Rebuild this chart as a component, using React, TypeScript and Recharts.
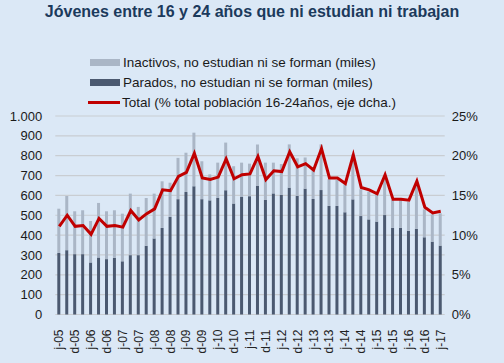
import React from 'react';
import { ComposedChart, Bar, Line, XAxis, YAxis, CartesianGrid } from 'recharts';

// trimestres de jun-05 a jun-17
const periodos = [
  'j-05', 's-05', 'd-05', 'm-06', 'j-06', 's-06', 'd-06', 'm-07', 'j-07', 's-07', 'd-07', 'm-08',
  'j-08', 's-08', 'd-08', 'm-09', 'j-09', 's-09', 'd-09', 'm-10', 'j-10', 's-10', 'd-10', 'm-11',
  'j-11', 's-11', 'd-11', 'm-12', 'j-12', 's-12', 'd-12', 'm-13', 'j-13', 's-13', 'd-13', 'm-14',
  'j-14', 's-14', 'd-14', 'm-15', 'j-15', 's-15', 'd-15', 'm-16', 'j-16', 's-16', 'd-16', 'm-17',
  'j-17',
];

// miles
const parados = [
  310, 324, 304, 304, 262, 287, 279, 285, 268, 299, 299, 346,
  383, 436, 492, 581, 617, 646, 581, 575, 587, 626, 559, 592,
  596, 647, 577, 610, 602, 639, 597, 634, 582, 627, 547, 547,
  515, 580, 496, 479, 468, 501, 437, 437, 421, 431, 389, 367,
  347,
];

const inactivos = [
  223, 273, 216, 221, 209, 275, 241, 240, 240, 310, 243, 241,
  226, 235, 172, 208, 198, 270, 191, 131, 178, 240, 188, 173,
  164, 210, 188, 155, 156, 218, 190, 157, 146, 230, 134, 131,
  141, 227, 135, 140, 139, 190, 140, 140, 147, 230, 141, 138,
  163,
];

// % total población 16-24 años
const total = [
  11.1, 12.5, 11.1, 11.2, 10.1, 12.1, 11.1, 11.2, 11.0, 13.1, 11.9, 12.7,
  13.3, 15.7, 15.6, 17.4, 17.9, 20.3, 17.2, 17.0, 17.3, 19.6, 17.1, 17.6,
  17.7, 19.9, 17.0, 18.1, 18.0, 20.5, 18.6, 19.0, 18.2, 20.9, 17.2, 17.2,
  16.5, 20.1, 16.0, 15.7, 15.2, 17.6, 14.5, 14.5, 14.4, 16.8, 13.5, 12.8,
  13.0,
];

const data = periodos.map((p, i) => ({
  periodo: p,
  parados: parados[i],
  inactivos: inactivos[i],
  total: total[i],
}));

const FONT = 'Arial, "Liberation Sans", sans-serif';
const BG = '#dbe8f6';

const fmtMiles = (v: number) => v.toLocaleString('de-DE');

const XTick = (props: any) => {
  const { x, y, payload } = props;
  return (
    <text
      x={x + 4}
      y={y + 7}
      transform={`rotate(-90, ${x + 4}, ${y + 7})`}
      textAnchor="end"
      fontSize={12}
      fontFamily={FONT}
      fill="#222"
    >
      {payload.value}
    </text>
  );
};

const LegendRow = ({ kind, label }: { kind: 'light' | 'dark' | 'line'; label: string }) => (
  <div style={{ display: 'flex', alignItems: 'center', height: 20 }}>
    {kind === 'line' ? (
      <div style={{ width: 32, height: 3, background: '#c00000', marginRight: 2 }} />
    ) : (
      <div
        style={{
          width: 30,
          height: 7,
          background: kind === 'light' ? '#aab6c6' : '#4b5970',
          marginRight: 3,
          marginLeft: 2,
        }}
      />
    )}
    <span>{label}</span>
  </div>
);

export default function App() {
  return (
    <div
      style={{
        position: 'absolute',
        left: 0,
        top: 0,
        width: 504,
        height: 363,
        background: BG,
        fontFamily: FONT,
        overflow: 'hidden',
      }}
    >
      <div
        style={{
          position: 'absolute',
          top: 3,
          left: 0,
          width: 504,
          textAlign: 'center',
          fontWeight: 'bold',
          fontSize: 16,
          color: '#1b3a5c',
        }}
      >
        Jóvenes entre 16 y 24 años que ni estudian ni trabajan
      </div>

      <div style={{ position: 'absolute', left: 88, top: 52, fontSize: 13.5, color: '#1a1a1a' }}>
        <LegendRow kind="light" label="Inactivos, no estudian ni se forman (miles)" />
        <LegendRow kind="dark" label="Parados, no estudian ni se forman (miles)" />
        <LegendRow kind="line" label="Total (% total población 16-24años, eje dcha.)" />
      </div>

      <ComposedChart
        width={504}
        height={363}
        data={data}
        margin={{ top: 116, right: 0, bottom: 0, left: 0 }}
        barCategoryGap={0}
      >
        <CartesianGrid vertical={false} stroke="#c9cdd2" strokeWidth={1.2} yAxisId="left" />
        <XAxis
          dataKey="periodo"
          interval={1}
          height={48.5}
          axisLine={false}
          tickLine={false}
          tick={<XTick />}
        />
        <YAxis
          yAxisId="left"
          width={55.3}
          domain={[0, 1000]}
          ticks={[0, 100, 200, 300, 400, 500, 600, 700, 800, 900, 1000]}
          interval={0}
          tickFormatter={fmtMiles}
          axisLine={false}
          tickLine={false}
          tickSize={0}
          tickMargin={13}
          tick={{ fontSize: 13, fill: '#1a1a1a', fontFamily: FONT }}
        />
        <YAxis
          yAxisId="right"
          orientation="right"
          width={59.3}
          domain={[0, 25]}
          ticks={[0, 5, 10, 15, 20, 25]}
          interval={0}
          tickFormatter={(v: number) => `${v}%`}
          axisLine={false}
          tickLine={false}
          tickSize={0}
          tickMargin={7}
          tick={{ fontSize: 13, fill: '#1a1a1a', fontFamily: FONT, textAnchor: 'start' }}
        />
        <Bar yAxisId="left" dataKey="parados" stackId="a" fill="#4b5970" barSize={3} isAnimationActive={false} />
        <Bar yAxisId="left" dataKey="inactivos" stackId="a" fill="#aab6c6" barSize={3} isAnimationActive={false} />
        <Line
          yAxisId="right"
          type="linear"
          dataKey="total"
          stroke="#c00000"
          strokeWidth={3}
          dot={false}
          activeDot={false}
          isAnimationActive={false}
        />
      </ComposedChart>
    </div>
  );
}
